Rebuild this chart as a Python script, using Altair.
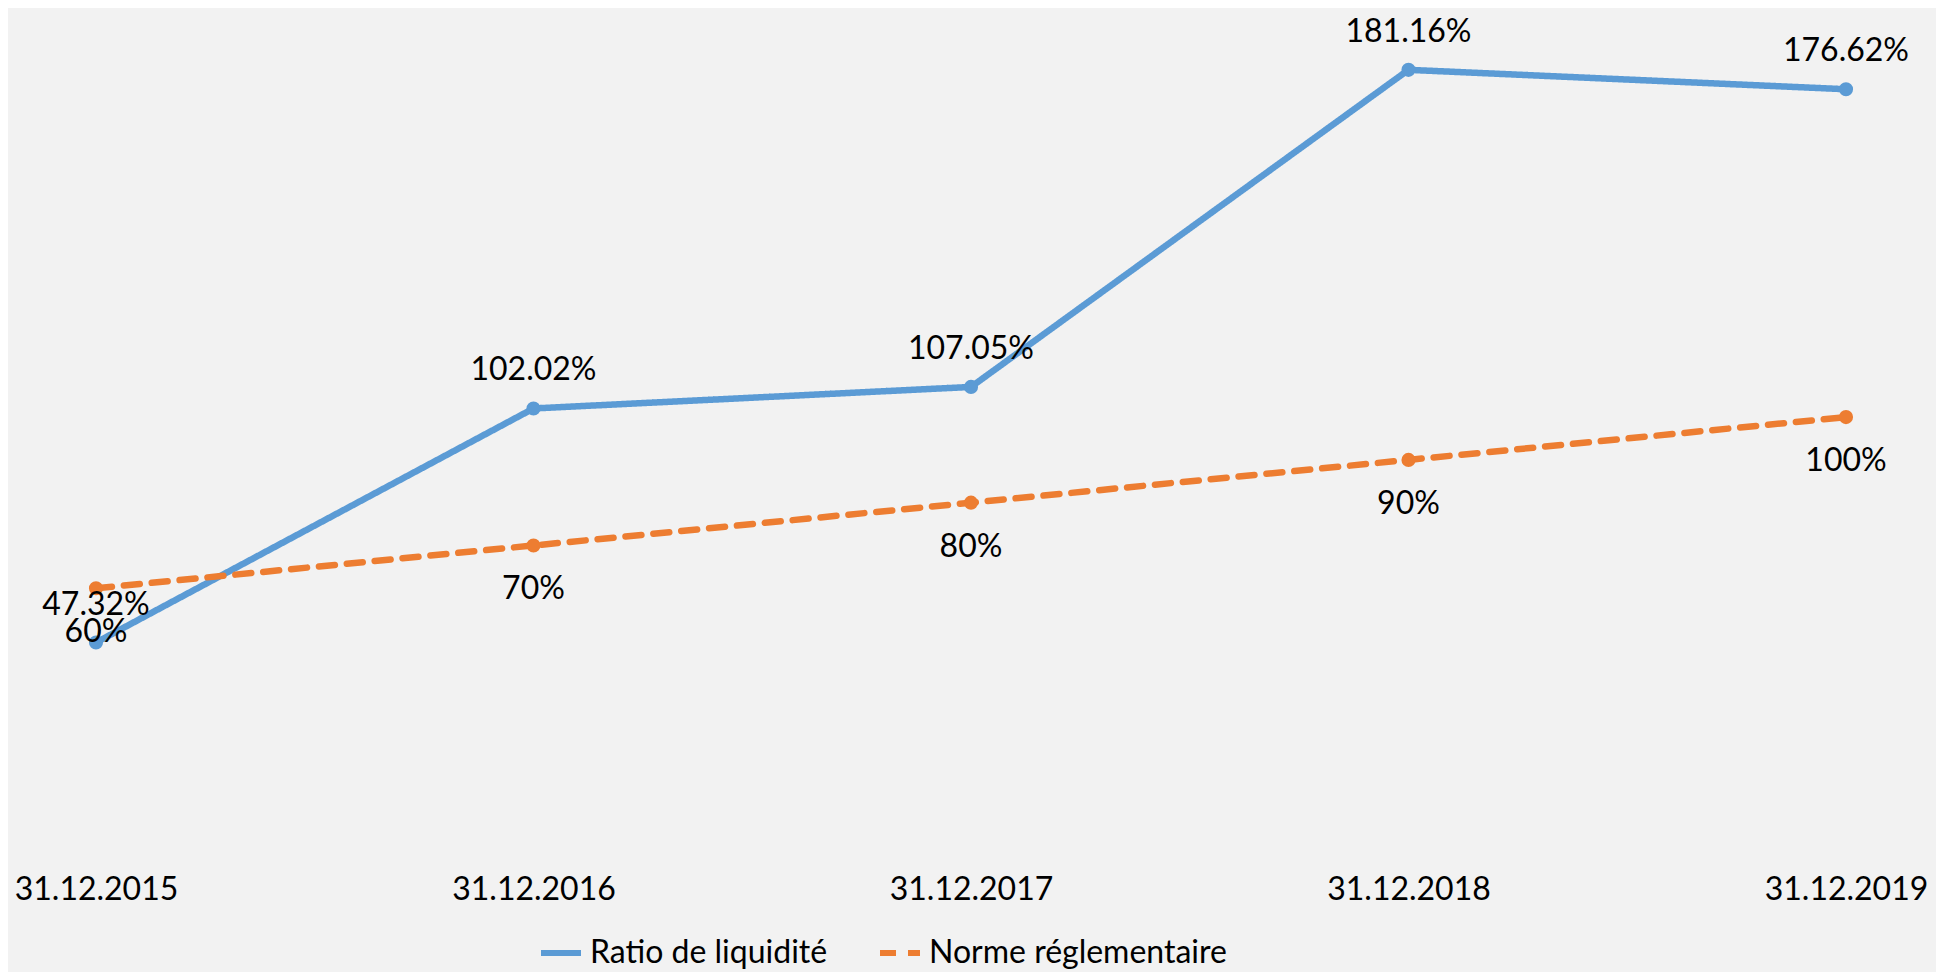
import altair as alt
import pandas as pd

dates = ["31.12.2015", "31.12.2016", "31.12.2017", "31.12.2018", "31.12.2019"]
ratio = [47.32, 102.02, 107.05, 181.16, 176.62]
norme = [60, 70, 80, 90, 100]
series_names = ["Ratio de liquidité", "Norme réglementaire"]
colors = ["#5B9BD5", "#ED7D31"]

rows = []
for d, v in zip(dates, ratio):
    rows.append({"date": d, "value": v, "series": series_names[0], "label": f"{v:g}%"})
for d, v in zip(dates, norme):
    rows.append({"date": d, "value": v, "series": series_names[1], "label": f"{v:g}%"})
df = pd.DataFrame(rows)

FONT = "Lato"
FS = 32

x = alt.X("date:N", sort=dates, scale=alt.Scale(type="point", padding=0),
          axis=alt.Axis(title=None, domain=False, ticks=False, grid=False, labelAngle=0,
                        labelFont=FONT, labelFontSize=32, labelColor="#000000",
                        labelPadding=29, labelFlush=False))
y = alt.Y("value:Q", scale=alt.Scale(domain=[0, 190], nice=False, zero=True), axis=None)

color = alt.Color("series:N", scale=alt.Scale(domain=series_names, range=colors),
                  legend=alt.Legend(title=None, orient="none", direction="horizontal",
                                    legendX=442, legendY=898,
                                    symbolType="stroke", symbolSize=1600, symbolStrokeWidth=6,
                                    labelFont=FONT, labelFontSize=FS, labelColor="#000000",
                                    labelOffset=6, columnPadding=40, labelLimit=400))
dash = alt.StrokeDash("series:N", scale=alt.Scale(domain=series_names, range=[[1, 0], [16, 12]]),
                      legend=None)

base = alt.Chart(df)

lines = base.mark_line(strokeWidth=6.5, strokeCap="round").encode(x=x, y=y, color=color, strokeDash=dash)
points = base.mark_point(filled=True, size=200, opacity=1).encode(
    x=x, y=y, color=alt.Color("series:N", scale=alt.Scale(domain=series_names, range=colors), legend=None))

txt_ratio = base.transform_filter(alt.datum.series == series_names[0]).mark_text(
    font=FONT, fontSize=FS, color="#000000", dy=-38).encode(x=x, y=y, text="label:N")
txt_norme = base.transform_filter(alt.datum.series == series_names[1]).mark_text(
    font=FONT, fontSize=FS, color="#000000", dy=44).encode(x=x, y=y, text="label:N")

chart = alt.layer(lines, points, txt_ratio, txt_norme).properties(
    width=1750, height=813,
    background="#f2f2f2",
    padding={"left": 88, "top": 24, "right": 90, "bottom": 127},
    autosize=alt.AutoSizeParams(type="none"),
).configure_view(stroke=None)

chart.save("out.html", embed_options={"renderer": "svg", "actions": False})
